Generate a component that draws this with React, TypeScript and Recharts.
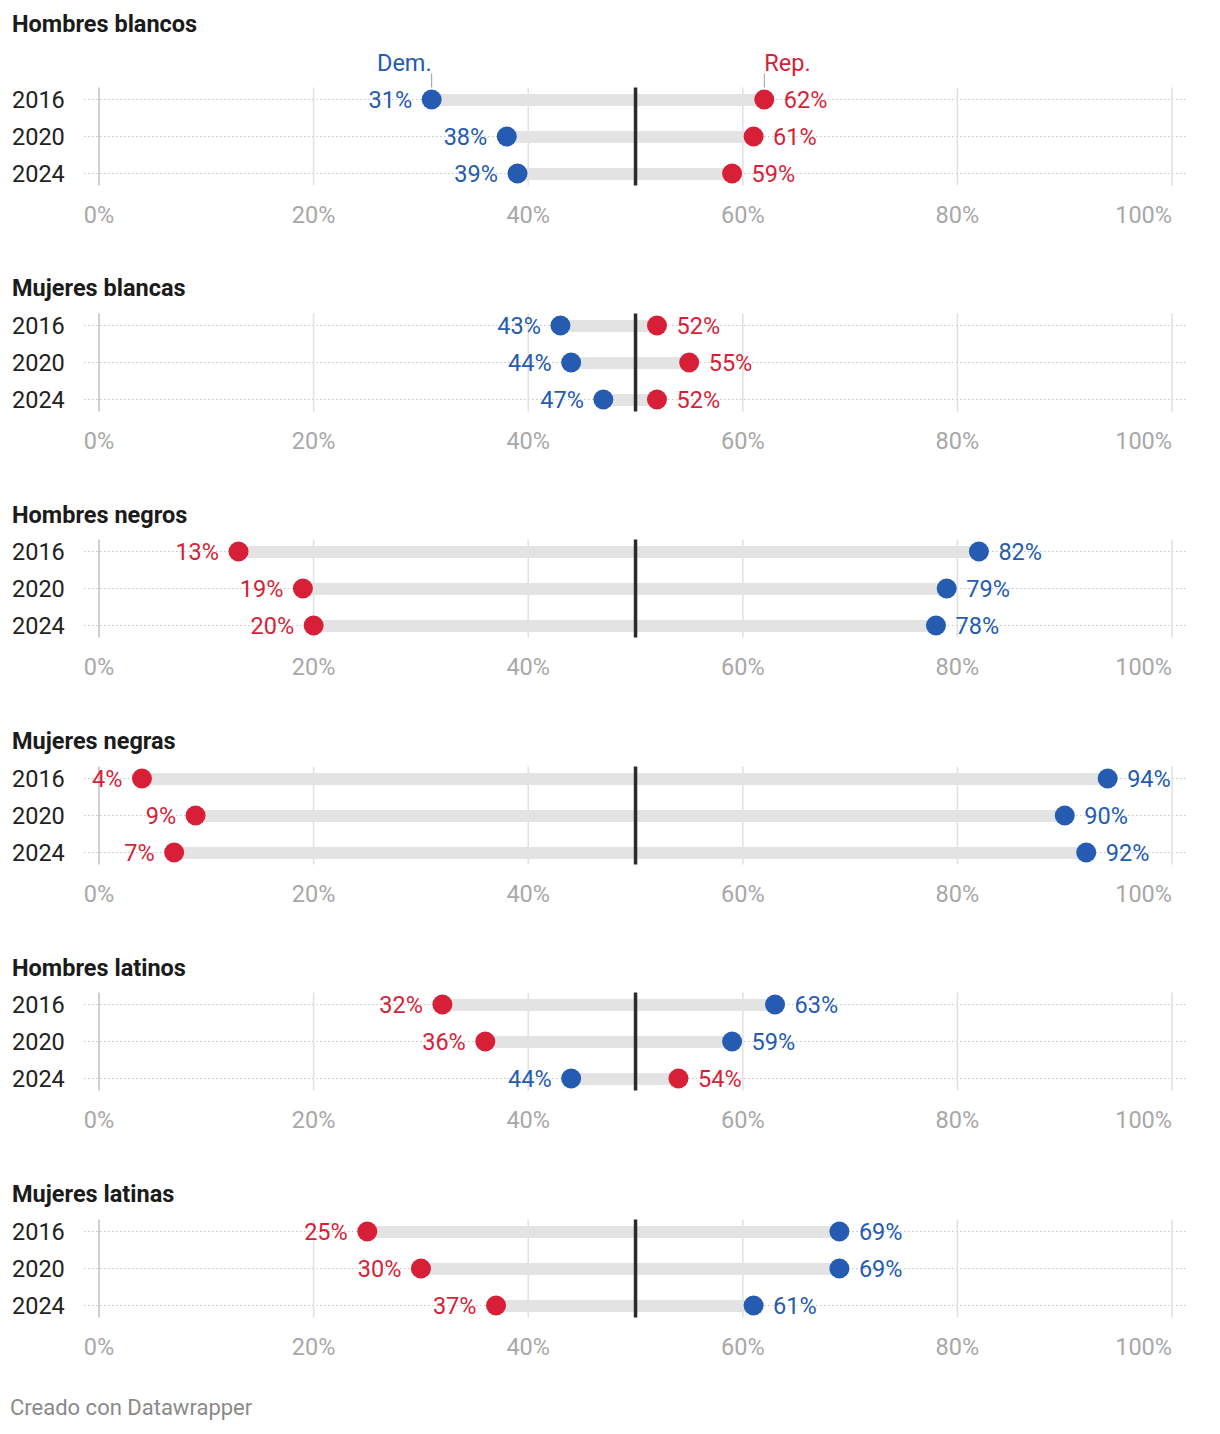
import React from 'react';
import {
  ComposedChart,
  Bar,
  Line,
  XAxis,
  YAxis,
  CartesianGrid,
  ReferenceLine,
  LabelList,
} from 'recharts';

// ---------- data ----------
const YEARS = ['2016', '2020', '2024'];
const GROUPS = [
  'Hombres blancos',
  'Mujeres blancas',
  'Hombres negros',
  'Mujeres negras',
  'Hombres latinos',
  'Mujeres latinas',
];
const DEM_HOMBRES_BLANCOS = [31, 38, 39];
const REP_HOMBRES_BLANCOS = [62, 61, 59];
const DEM_MUJERES_BLANCAS = [43, 44, 47];
const REP_MUJERES_BLANCAS = [52, 55, 52];
const DEM_HOMBRES_NEGROS = [82, 79, 78];
const REP_HOMBRES_NEGROS = [13, 19, 20];
const DEM_MUJERES_NEGRAS = [94, 90, 92];
const REP_MUJERES_NEGRAS = [4, 9, 7];
const DEM_HOMBRES_LATINOS = [63, 59, 44];
const REP_HOMBRES_LATINOS = [32, 36, 54];
const DEM_MUJERES_LATINAS = [69, 69, 61];
const REP_MUJERES_LATINAS = [25, 30, 37];
const X_TICKS = [0, 20, 40, 60, 80, 100];
const MIDLINE = 50;
const SERIES_NAMES = { dem: 'Dem.', rep: 'Rep.' };
const FOOTER = 'Creado con Datawrapper';

const DEM_BY_GROUP = [
  DEM_HOMBRES_BLANCOS,
  DEM_MUJERES_BLANCAS,
  DEM_HOMBRES_NEGROS,
  DEM_MUJERES_NEGRAS,
  DEM_HOMBRES_LATINOS,
  DEM_MUJERES_LATINAS,
];
const REP_BY_GROUP = [
  REP_HOMBRES_BLANCOS,
  REP_MUJERES_BLANCAS,
  REP_HOMBRES_NEGROS,
  REP_MUJERES_NEGRAS,
  REP_HOMBRES_LATINOS,
  REP_MUJERES_LATINAS,
];

// ---------- style ----------
const BLUE = '#255bb0';
const RED = '#d71f38';
const FONT = 'Roboto, "Noto Sans", sans-serif';
const FS = 23.5;
const W = 1220;
const ROW = 37;
const MT = 40;
const XAXIS_H = 40;
const CH = MT + ROW * 3 + XAXIS_H;
const FIRST_ROW = 99;
const PANEL_STEP = 226.4;
const LABEL_GAP = 19.5;

const makeLabel =
  (kind: 'dem' | 'rep', dem: number[], rep: number[], header: boolean) =>
  (props: any) => {
    const { x, y, value } = props;
    let index = props.index;
    if (index == null) index = 0;
    const other = kind === 'dem' ? rep[index] : dem[index];
    const left = value < other;
    const color = kind === 'dem' ? BLUE : RED;
    return (
      <g>
        <text
          x={left ? x - LABEL_GAP : x + LABEL_GAP}
          y={y}
          dy="0.36em"
          textAnchor={left ? 'end' : 'start'}
          fill={color}
          fontSize={FS}
          fontFamily={FONT}
        >
          {value}%
        </text>
        {header && index === 0 ? (
          <g>
            <text
              x={x}
              y={y - 37}
              dy="0.36em"
              textAnchor={left ? 'end' : 'start'}
              fill={color}
              fontSize={FS}
              fontFamily={FONT}
            >
              {SERIES_NAMES[kind]}
            </text>
            <line x1={x} x2={x} y1={y - 26} y2={y - 12} stroke="#9a9a9a" strokeWidth={1} />
          </g>
        ) : null}
      </g>
    );
  };

const XTick = (props: any) => {
  const { x, y, payload } = props;
  const v = payload.value;
  return (
    <text
      x={x}
      y={y + 22.5}
      dy="0.36em"
      textAnchor={v === 100 ? 'end' : 'middle'}
      fill="#a8a8a8"
      fontSize={FS}
      fontFamily={FONT}
    >
      {v}%
    </text>
  );
};

const YTick = (props: any) => {
  const { x, y, payload } = props;
  return (
    <text x={x - 72} y={y} dy="0.36em" textAnchor="start" fill="#222" fontSize={FS} fontFamily={FONT}>
      {payload.value}
    </text>
  );
};

const near = (a: number, b: number) => Math.abs(a - b) < 0.6;

const hLine = (p: any) => {
  if (near(p.y1, p.y) || near(p.y1, p.y + p.height)) return <g key={`h-${p.index}`} />;
  return (
    <line
      key={`h-${p.index}`}
      x1={p.x1}
      x2={p.x2}
      y1={p.y1}
      y2={p.y2}
      stroke="#c6c6c6"
      strokeDasharray="1.5 2.5"
      strokeWidth={1.2}
    />
  );
};

const vLine = (p: any) => {
  if (near(p.x1, p.x) || near(p.x1, p.x + p.width)) return <g key={`v-${p.index}`} />;
  const isZero = p.x1 < p.x + 30;
  return (
    <line
      key={`v-${p.index}`}
      x1={p.x1}
      x2={p.x2}
      y1={p.y1}
      y2={p.y2}
      stroke={isZero ? '#c4c4c4' : '#e2e2e2'}
      strokeWidth={1.6}
    />
  );
};

const midShape = (p: any) => {
  const top = Math.min(p.y1, p.y2);
  const bottom = Math.max(p.y1, p.y2);
  return <line x1={p.x1} x2={p.x2} y1={top + 6.5} y2={bottom - 6.5} stroke="#2b2b2b" strokeWidth={3.5} />;
};

function Panel({ gi }: { gi: number }) {
  const dem = DEM_BY_GROUP[gi];
  const rep = REP_BY_GROUP[gi];
  const data = YEARS.map((year, i) => ({
    year,
    dem: dem[i],
    rep: rep[i],
    range: [Math.min(dem[i], rep[i]), Math.max(dem[i], rep[i])],
  }));
  const row1 = FIRST_ROW + PANEL_STEP * gi;
  const top = row1 - ROW / 2 - MT;
  const titleY = gi === 0 ? 24 : row1 - 37;
  return (
    <>
      <div
        style={{
          position: 'absolute',
          left: 12,
          top: titleY - 13,
          height: 26,
          lineHeight: '26px',
          fontSize: 23.5,
          fontWeight: 700,
          color: '#1b1b1b',
          fontFamily: FONT,
          whiteSpace: 'nowrap',
        }}
      >
        {GROUPS[gi]}
      </div>
      <div style={{ position: 'absolute', left: 0, top }}>
        <ComposedChart
          width={W}
          height={CH}
          data={data}
          layout="vertical"
          margin={{ top: MT, right: 34, bottom: 0, left: 12 }}
          style={{ overflow: 'visible' }}
        >
          <CartesianGrid vertical={false} horizontal={hLine} />
          <CartesianGrid horizontal={false} y={MT + 6.5} height={ROW * 3 - 13} vertical={vLine} />
          <XAxis
            type="number"
            domain={[-1.4, 101.3]}
            allowDataOverflow
            ticks={X_TICKS}
            interval={0}
            axisLine={false}
            tickLine={false}
            tickSize={0}
            tickMargin={0}
            height={XAXIS_H}
            tick={<XTick />}
          />
          <YAxis
            type="category"
            dataKey="year"
            width={72}
            axisLine={false}
            tickLine={false}
            tickSize={0}
            tickMargin={0}
            interval={0}
            tick={<YTick />}
          />
          <Bar dataKey="range" barSize={12} fill="#e3e3e3" isAnimationActive={false} />
          <ReferenceLine x={MIDLINE} stroke="#2b2b2b" strokeWidth={3.5} shape={midShape} />
          <Line
            dataKey="dem"
            stroke="none"
            strokeWidth={0}
            dot={{ r: 10, fill: BLUE, stroke: 'none', strokeWidth: 0 }}
            activeDot={false}
            isAnimationActive={false}
          >
            <LabelList dataKey="dem" content={makeLabel('dem', dem, rep, gi === 0)} />
          </Line>
          <Line
            dataKey="rep"
            stroke="none"
            strokeWidth={0}
            dot={{ r: 10, fill: RED, stroke: 'none', strokeWidth: 0 }}
            activeDot={false}
            isAnimationActive={false}
          >
            <LabelList dataKey="rep" content={makeLabel('rep', dem, rep, gi === 0)} />
          </Line>
        </ComposedChart>
      </div>
    </>
  );
}

export default function App() {
  return (
    <div
      style={{
        position: 'absolute',
        left: 0,
        top: 0,
        width: W,
        height: 1434,
        background: '#fff',
        fontFamily: FONT,
        overflow: 'hidden',
      }}
    >
      {GROUPS.map((_, gi) => (
        <Panel key={gi} gi={gi} />
      ))}
      <div
        style={{
          position: 'absolute',
          left: 10,
          top: 1395,
          height: 26,
          lineHeight: '26px',
          fontSize: 22,
          color: '#8a8a8a',
          fontFamily: FONT,
        }}
      >
        {FOOTER}
      </div>
    </div>
  );
}
